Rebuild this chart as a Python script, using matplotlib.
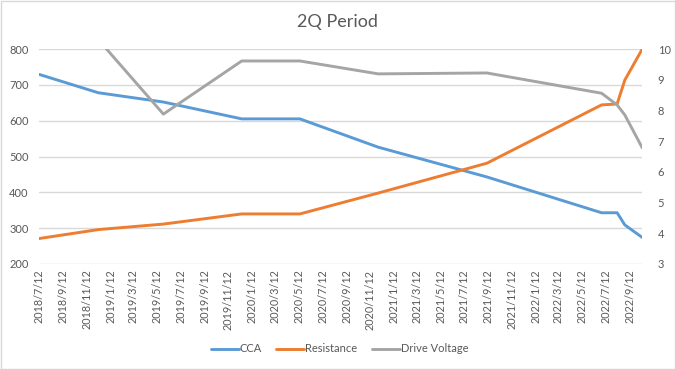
import matplotlib
matplotlib.use("Agg")
import matplotlib.pyplot as plt
import matplotlib.dates as mdates
import pandas as pd
from matplotlib.patches import Rectangle

# measurement dates and readings
dates = ["2018-07-12", "2018-12-11", "2019-05-28", "2019-12-16", "2020-05-14", "2020-12-02",
         "2021-09-08", "2022-07-01", "2022-08-10", "2022-08-30", "2022-10-14"]
cca = [729, 678, 652, 605, 605, 526, 443, 343, 343, 309, 274]
resistance = [3.83, 4.12, 4.30, 4.63, 4.63, 5.31, 6.28, 8.18, 8.21, 8.99, 10.0]
drive_voltage = [10.9, 10.31, 7.88, 9.61, 9.61, 9.19, 9.22, 8.56, 8.18, 7.85, 6.78]

left_ticks = list(range(200, 801, 100))
right_ticks = list(range(3, 11))

x = pd.to_datetime(dates)

plt.rcParams['font.family'] = ['Lato', 'DejaVu Sans']
txt = '#595959'
grid = '#D9D9D9'

fig = plt.figure(figsize=(6.75, 3.69), dpi=100)
ax = fig.add_axes([38.5 / 675, 1 - 264 / 369, (642.3 - 38.5) / 675, (264 - 49) / 369])
ax2 = ax.twinx()

l1, = ax.plot(x, cca, color='#5B9BD5', lw=2.1, solid_capstyle='round', label='CCA')
l2, = ax2.plot(x, resistance, color='#ED7D31', lw=2.1, solid_capstyle='round', label='Resistance')
l3, = ax2.plot(x, drive_voltage, color='#A5A5A5', lw=2.1, solid_capstyle='round', label='Drive Voltage')

ax.set_ylim(200, 800)
ax.set_yticks(left_ticks)
ax2.set_ylim(3, 10)
ax2.set_yticks(right_ticks)
ax.set_xlim(pd.Timestamp("2018-07-10"), pd.Timestamp("2022-10-14"))

ax.xaxis.set_major_locator(mdates.MonthLocator(bymonth=[1, 3, 5, 7, 9, 11], bymonthday=12))
ax.xaxis.set_major_formatter(plt.FuncFormatter(
    lambda v, pos: (lambda d: f"{d.year}/{d.month}/{d.day}")(mdates.num2date(v))))

ax.grid(axis='y', color=grid, lw=1)
ax.set_axisbelow(True)
for a in (ax, ax2):
    for s in a.spines.values():
        s.set_visible(False)
ax.tick_params(axis='x', length=0, pad=4, labelsize=7.8, labelcolor=txt, labelrotation=90)
ax.tick_params(axis='y', length=0, pad=7, labelsize=8, labelcolor=txt)
ax2.tick_params(axis='y', length=0, pad=11, labelsize=8, labelcolor=txt)
for lab in ax.get_xticklabels():
    lab.set_verticalalignment('top')

fig.text(0.5, 1 - 22 / 369, '2Q Period', ha='center', va='center', fontsize=13, color=txt)

leg = fig.legend(handles=[l1, l2, l3], loc='center', bbox_to_anchor=(0.503, 1 - 349 / 369),
                 ncol=3, frameon=False, fontsize=8, handlelength=2.5, handletextpad=0.1,
                 columnspacing=1.3, labelcolor=txt)

fig.patches.append(Rectangle((0.5 / 675, 0.5 / 369), 1 - 1 / 675, 1 - 1 / 369,
                             transform=fig.transFigure, fill=False, edgecolor=grid, lw=1))

fig.savefig("out.png", dpi=100)
